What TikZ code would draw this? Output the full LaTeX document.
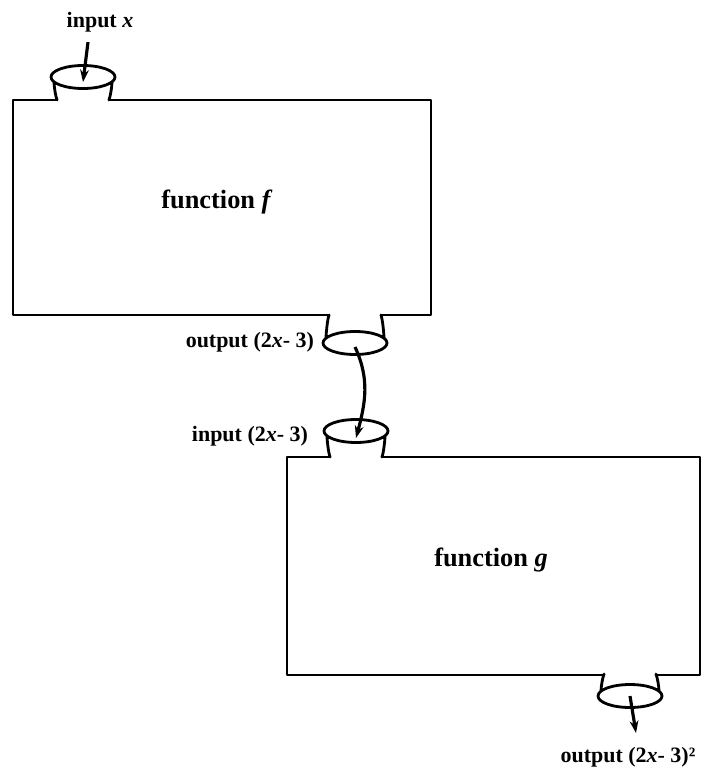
\documentclass[tikz,border=0pt]{standalone}
\usepackage{fontspec}
\setmainfont{Liberation Serif}
\usetikzlibrary{arrows.meta,calc}

\tikzset{
    wire/.style = {line width=1.6pt, line cap=round, line join=round},
    feed/.style = {line width=1.8pt, -{Stealth[length=7pt,width=5pt]}},
    portlabel/.style = {font=\fontsize{12.5}{14}\selectfont\bfseries, inner sep=1pt},
    boxlabel/.style = {font=\fontsize{15}{18}\selectfont\bfseries},
}

\begin{document}
\begin{tikzpicture}[x = 0.02cm, y = -0.02cm]
        \useasboundingbox (0,0) rectangle (719,767);

        % ports
        \coordinate (fin)  at (83,77);
        \coordinate (fout) at (355,343);
        \coordinate (gin)  at (356,431);
        \coordinate (gout) at (630,696);
        \coordinate (gend) at (636,733);

        \foreach \p/\d/\s in {fin/23/1, fout/28/-1, gin/26/1, gout/22/-1} {
            \begin{scope}[shift = {(\p)}, yscale = \s]
                \draw [wire]
                    (0,0) ellipse (32 and 11.5)
                    (-26,\d) .. controls (-27.5,\d-4) and (-29,9) .. (-29,5)
                    (26,\d) .. controls (27.5,\d-4) and (29,9) .. (29,5);
            \end{scope}
        }

        % boxes
        \draw [wire]
            (57,100) -- (13,100) -- (13,315) -- (329,315)
            (381,315) -- (431,315) -- (431,100) -- (109,100);
        \draw [wire]
            (330,457) -- (287,457) -- (287,675) -- (604,675)
            (656,675) -- (700,675) -- (700,457) -- (382,457);

        \node [boxlabel] (flabel) at (217,202) {function \textit{f}};
        \node [boxlabel] (glabel) at (491,560) {function \textit{g}};
        \node [portlabel] (finlabel) at (100,22) {input \textit{x}};
        \node [portlabel, anchor = east] (foutlabel) at (316,342) {output (2\textit{x}- 3)};
        \node [portlabel, anchor = east] (ginlabel) at (310,436) {input (2\textit{x}- 3)};
        \node [portlabel] (goutlabel) at (628,757) {output (2\textit{x}- 3)²};

        % flow
        \draw [feed] (finlabel.south) ++(-12,8) -- ([yshift = -0.1cm]fin);
        \draw [feed] ([yshift = -0.08cm]fout) to [out = -65, in = 75] ([yshift = -0.14cm]gin);
        \draw [feed] (gout) -- (gend);
    \end{tikzpicture}
\end{document}
